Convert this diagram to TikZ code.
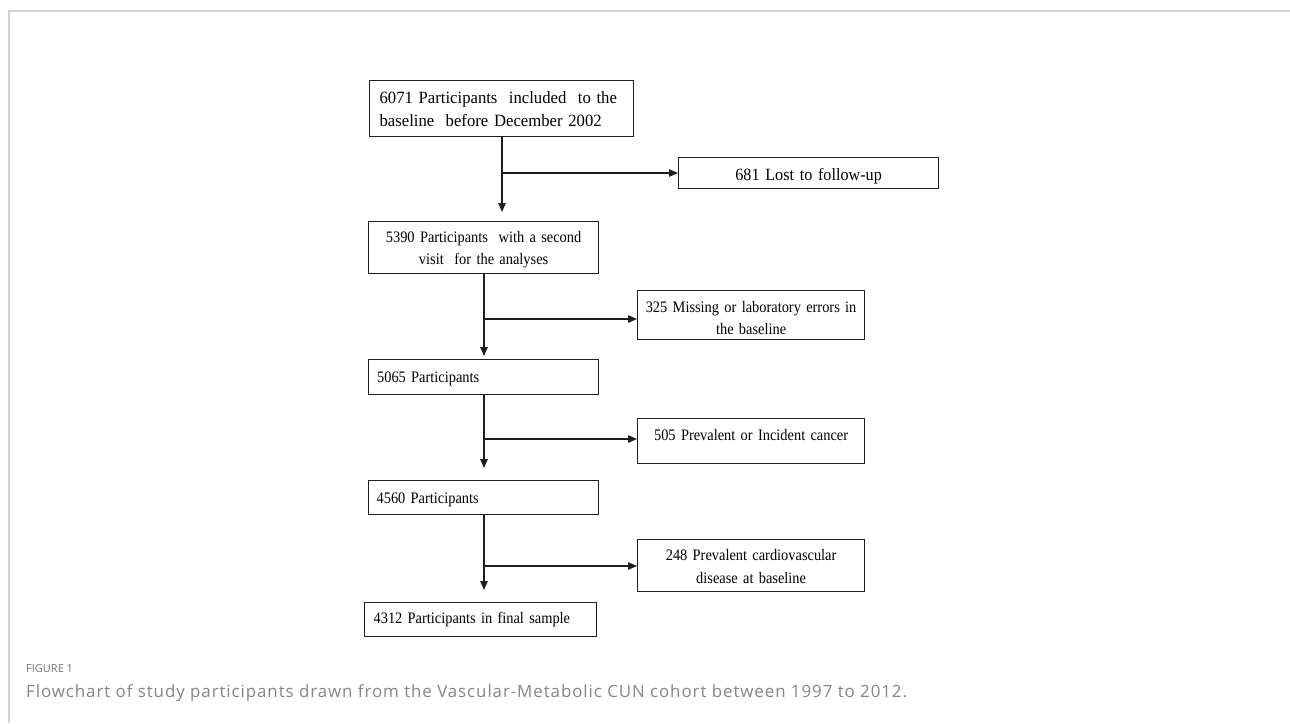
\documentclass[tikz,border=0pt]{standalone}
\usepackage{fontspec}
\setmainfont{Liberation Serif}
\newfontfamily\boxfont[FakeStretch=0.9]{Liberation Serif}
\newfontfamily\bigfont[FakeStretch=0.97]{Liberation Serif}
\newfontfamily\lostfont[FakeStretch=0.94]{Liberation Serif}
\newfontfamily\capfont[LetterSpace=5.5]{Open Sans}
\newfontfamily\figfont{Open Sans}
\usetikzlibrary{arrows.meta}
\definecolor{framegray}{HTML}{D2D2D2}
\definecolor{capgray}{HTML}{858585}
\definecolor{figgray}{HTML}{727272}
\definecolor{linecol}{HTML}{1E1E1E}
\begin{document}
\begin{tikzpicture}[x=1pt,y=-1pt,
  box/.style={draw=linecol, line width=1.2pt, inner ysep=0pt, anchor=north west,
    font=\boxfont\fontsize{16}{22.5}\selectfont},
  bigtext/.style={font=\bigfont\fontsize{17.2}{22.7}\selectfont},
  losttext/.style={font=\lostfont\fontsize{17.2}{22.7}\selectfont},
  conn/.style={draw=linecol, line width=1.2pt},
  arr/.style={conn, -{Triangle[length=9pt,width=7.5pt]}},
  captext/.style={inner sep=0pt, anchor=base west},
]
\useasboundingbox (0,0) rectangle (1290,723);
\draw[framegray, line width=1.5pt] (9,723) -- (9,11) -- (1290,11);

% main column
\node[box, bigtext, align=left, text width=248pt, inner xsep=8pt, minimum height=56pt,
  text height=0pt, text depth=9.4pt] (b1) at (369,80)
  {\hspace{2pt}6071 Participants\ \ included\ \ to the\\\hspace{2pt}baseline\ \ before December 2002};
\node[box, align=center, text width=218pt, inner xsep=6pt, minimum height=52pt,
  text height=0pt, text depth=10.6pt] (b2) at (368,221)
  {5390 Participants\ \ with a second\\visit\ \ for the analyses};
\node[box, align=left, text width=213pt, inner xsep=8.5pt, minimum height=35pt,
  text height=11.6pt, text depth=0pt] (b3) at (368,359) {5065 Participants};
\node[box, align=left, text width=214pt, inner xsep=8pt, minimum height=34pt,
  text height=12.6pt, text depth=0pt] (b4) at (368,480) {4560 Participants};
\node[box, align=left, text width=214pt, inner xsep=9pt, minimum height=34pt,
  text height=8.6pt, text depth=0pt] (b5) at (364,602) {4312 Participants in final sample};

% exclusion boxes
\node[box, losttext, align=center, text width=244pt, inner xsep=8pt, minimum height=31pt,
  text height=14pt, text depth=0pt] (x1) at (678,157) {681 Lost to follow-up};
\node[box, align=center, text width=217pt, inner xsep=5pt, minimum height=49pt,
  text height=0pt, text depth=5.6pt] (x2) at (637,290)
  {325 Missing or laboratory errors in\\the baseline};
\node[box, align=center, text width=217pt, inner xsep=5pt, minimum height=45pt,
  text height=0pt, text depth=1pt] (x3) at (637,418) {505 Prevalent or Incident cancer};
\node[box, align=center, text width=217pt, inner xsep=5pt, minimum height=52pt,
  text height=0pt, text depth=10pt] (x4) at (637,539)
  {248 Prevalent cardiovascular\\disease at baseline};

% arrow end points
\coordinate (e1) at (502,212);
\coordinate (e2) at (484,356);
\coordinate (e3) at (484,468);
\coordinate (e4) at (484,590);
\coordinate (t1) at (502,173);
\coordinate (t2) at (484,319);
\coordinate (t3) at (484,439);
\coordinate (t4) at (484,566);

% connectors
\draw[arr] (b1.south -| e1) -- (e1);
\draw[arr] (t1) -- (t1 -| x1.west);
\draw[arr] (b2.south -| e2) -- (e2);
\draw[arr] (t2) -- (t2 -| x2.west);
\draw[arr] (b3.south -| e3) -- (e3);
\draw[arr] (t3) -- (t3 -| x3.west);
\draw[arr] (b4.south -| e4) -- (e4);
\draw[arr] (t4) -- (t4 -| x4.west);

% caption
\node[captext, text=figgray, font=\figfont\fontsize{11}{14}\selectfont] (fig) at (26,672.7) {FIGURE 1};
\node[captext, text=capgray, font=\capfont\fontsize{16.9}{19}\selectfont] (cap) at (26,697)
  {Flowchart of study participants drawn from the Vascular-Metabolic CUN cohort between 1997 to 2012.};
\end{tikzpicture}
\end{document}
